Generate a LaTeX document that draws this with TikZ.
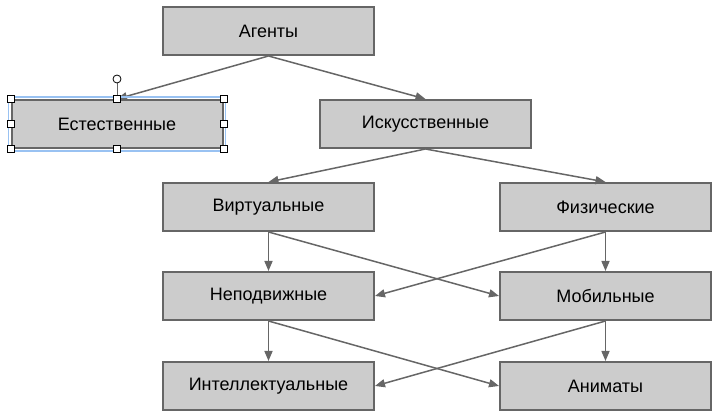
\documentclass[tikz,border=0pt]{standalone}
\usepackage{fontspec}
\setmainfont{Liberation Sans}
\usetikzlibrary{arrows.meta}

\definecolor{boxfill}{HTML}{CCCCCC}
\definecolor{boxline}{HTML}{666666}
\definecolor{selblue}{HTML}{99C2F2}

\tikzset{
  box/.style={draw=boxline, line width=2pt, fill=boxfill, minimum width=211pt,
    minimum height=48pt, inner sep=0pt, font=\fontsize{18}{22}\selectfont},
  link/.style={draw=boxline, line width=1.5pt, -{Triangle[length=10pt,width=8pt]}},
  grip/.style={draw=black, fill=white, line width=1pt, minimum size=7pt, inner sep=0pt}
}

\begin{document}
\begin{tikzpicture}[x=1pt, y=-1pt]

% Page frame (pixel units, y pointing down)
\useasboundingbox (0,0) rectangle (721,419);

% Boxes
\node[box] (agents)  at (268.5,31)  {Агенты};
\node[box] (natural) at (117,124)   {Естественные};
\node[box] (artif)   at (425.5,124) {Искусственные};
\node[box] (virt)    at (268.5,207) {Виртуальные};
\node[box] (phys)    at (605.5,207) {Физические};
\node[box] (still)   at (268.5,296) {Неподвижные};
\node[box] (mobile)  at (605.5,296) {Мобильные};
\node[box] (intel)   at (268.5,386) {Интеллектуальные};
\node[box] (anim)    at (605.5,386) {Аниматы};

% Links
\draw[link] (agents.south) -- (natural.north);
\draw[link] (agents.south) -- (artif.north);
\draw[link] (artif.south) -- (virt.north);
\draw[link] (artif.south) -- (phys.north);
\draw[link] (virt.south) -- (still.north);
\draw[link] (virt.south) -- (mobile.west);
\draw[link] (phys.south) -- (mobile.north);
\draw[link] (phys.south) -- (still.east);
\draw[link] (still.south) -- (intel.north);
\draw[link] (still.south) -- (anim.west);
\draw[link] (mobile.south) -- (anim.north);
\draw[link] (mobile.south) -- (intel.east);

% Selection frame round the natural box
\draw[selblue, line width=1.5pt] ([shift={(-2,2)}]natural.south west)
  rectangle ([shift={(2,-2)}]natural.north east);

% Rotation handle
\coordinate (rot) at (117,79);
\draw[boxline, line width=1pt] (natural.north) -- (rot);
\draw[black, fill=white, line width=0.8pt] (rot) circle (4pt);

% Size handles
\foreach \a [count=\i] in {north west, north, north east, east,
  south east, south, south west, west}
  \node[grip] (grip\i) at (natural.\a) {};

\end{tikzpicture}
\end{document}
